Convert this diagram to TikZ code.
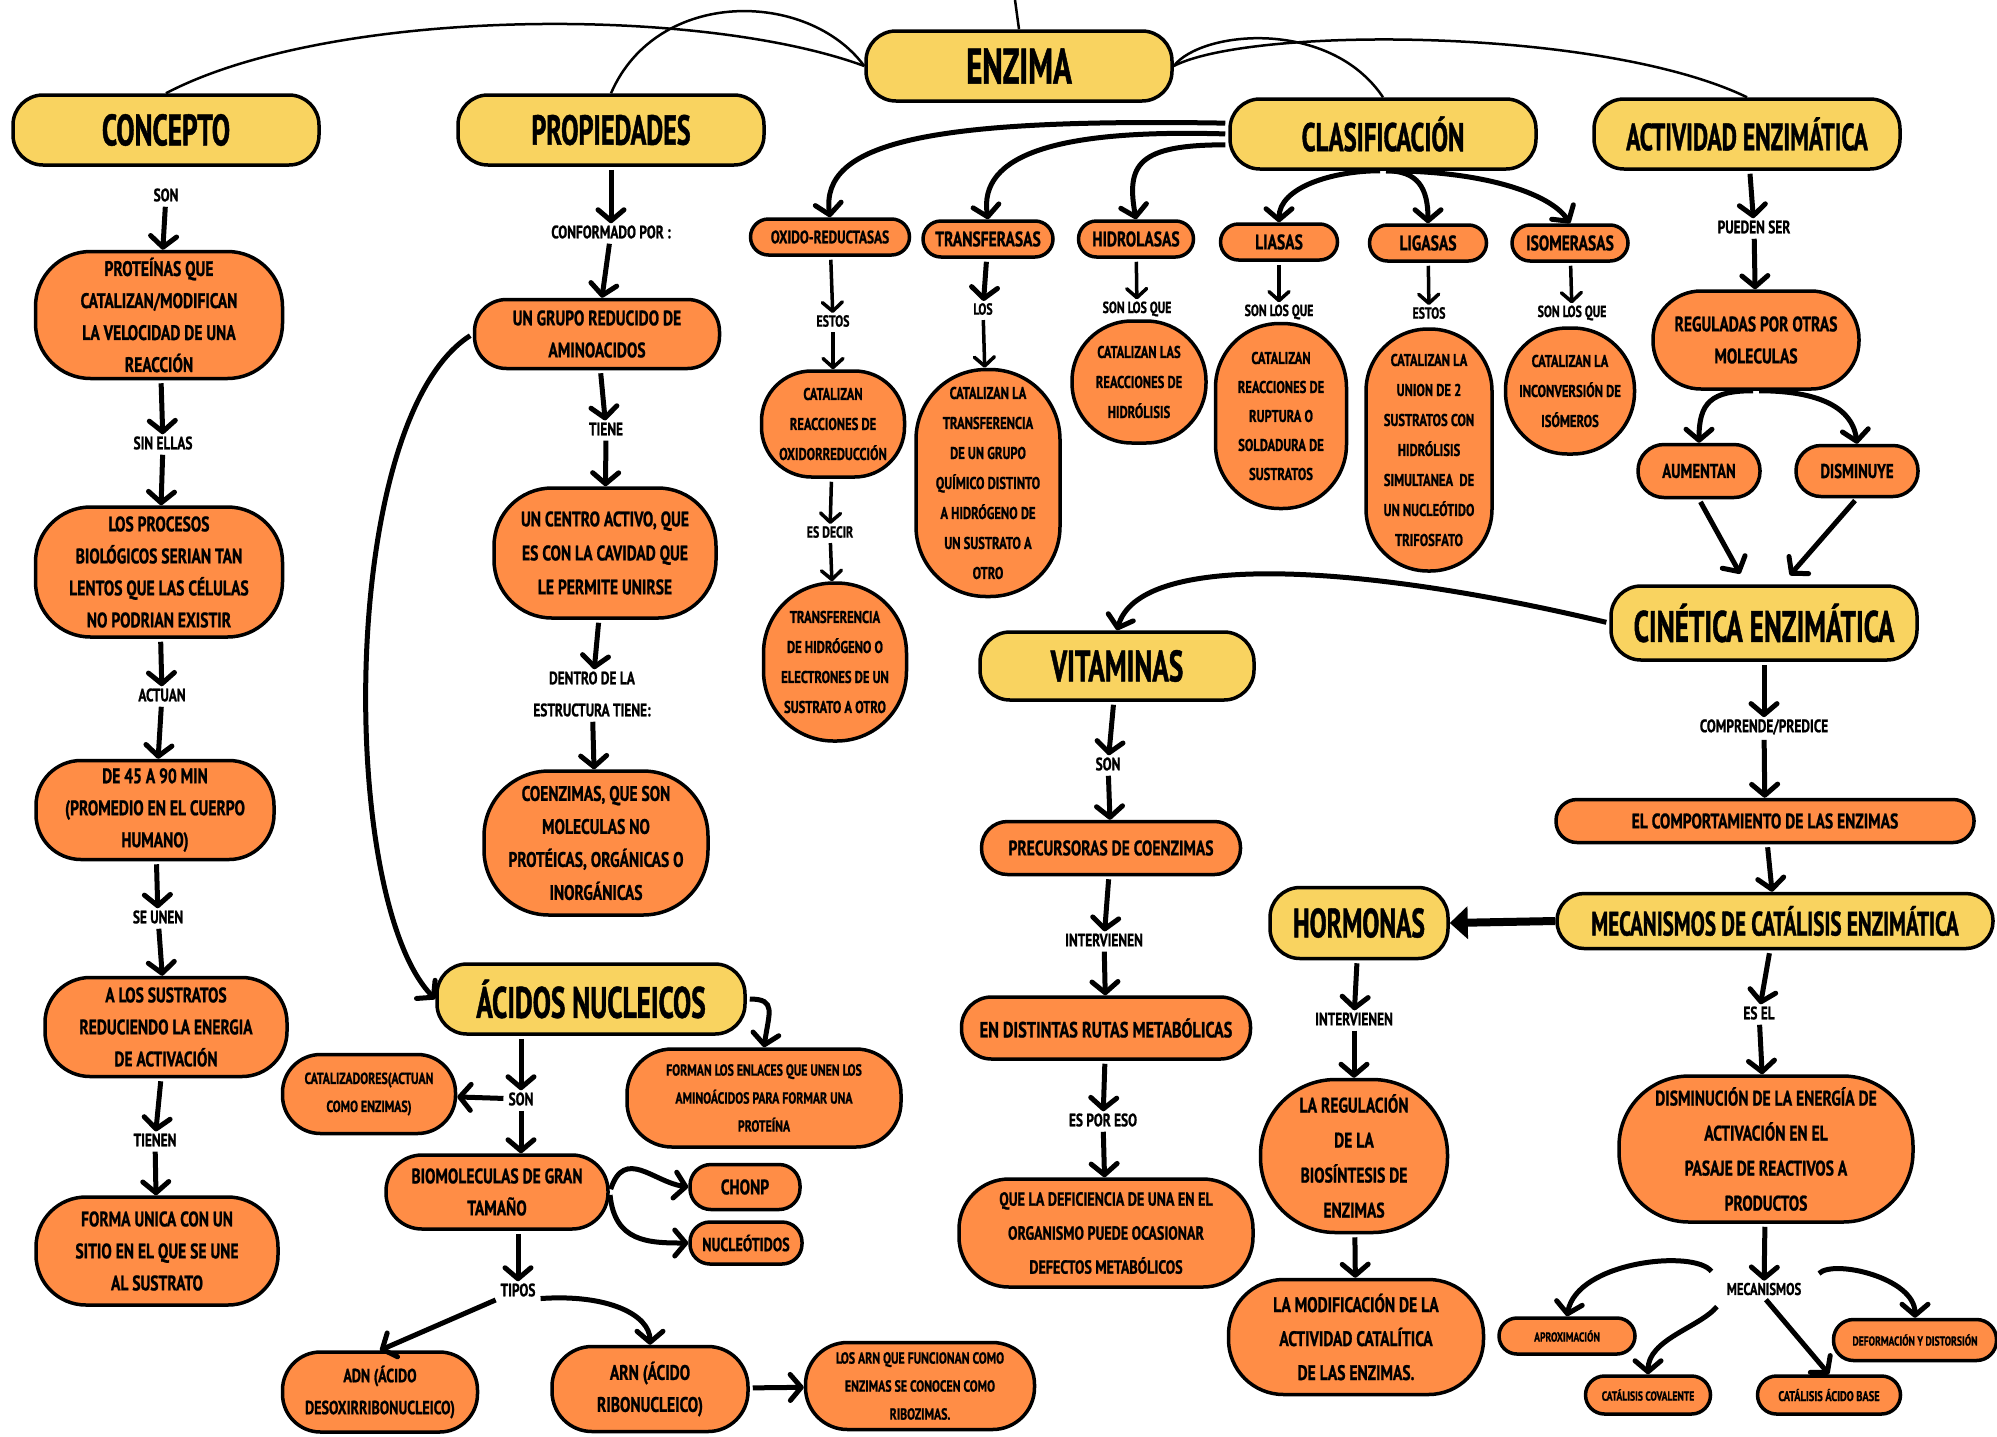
\documentclass[tikz,border=0pt]{standalone}
\usepackage{fontspec}
\setmainfont{PT Sans}[FakeStretch=0.74, FakeBold=1]
\newfontfamily\titulofont{PT Sans}[FakeStretch=0.62, FakeBold=1]
\usetikzlibrary{arrows.meta,positioning}
\definecolor{amarillo}{RGB}{249,211,96}
\definecolor{naranja}{RGB}{255,141,70}
\tikzset{
  titulo/.style={draw, line width=3.5pt, fill=amarillo, rounded corners=30pt, minimum width=306pt, minimum height=70pt, inner sep=0pt, font=\titulofont\bfseries\fontsize{44}{48}\selectfont},
  caja/.style={draw, line width=3.5pt, fill=naranja, rounded corners=#1, inner sep=0pt, align=center, font=\bfseries\fontsize{21}{32}\selectfont},
  caja/.default=20pt,
  tam/.style 2 args={minimum width=#1pt, minimum height=#2pt},
  letra/.style 2 args={font=\bfseries\fontsize{#1}{#2}\selectfont},
  etiqueta/.style={inner sep=2pt, align=center, font=\bfseries\fontsize{18}{30}\selectfont},
  flecha/.style={-{Straight Barb[length=11pt,width=26pt,round]}, line width=5pt, shorten <=3pt},
  flechita/.style={-{Straight Barb[length=9pt,width=20pt,round]}, line width=3.5pt, shorten <=3pt},
  rama/.style={line width=2.5pt}
}
\begin{document}
\begin{tikzpicture}[x=1pt, y=-1pt]
\useasboundingbox (0,0) rectangle (1997,1436);
\fill[white] (0,0) rectangle (1997,1436);

\node[titulo, font=\titulofont\bfseries\fontsize{50}{54}\selectfont] at (1019,66) (enz) {ENZIMA};
\node[titulo] at (166,130) (con) {CONCEPTO};
\node[titulo, font=\titulofont\bfseries\fontsize{42}{46}\selectfont] at (611,130) (pro) {PROPIEDADES};
\node[titulo, font=\titulofont\bfseries\fontsize{40}{44}\selectfont] at (1383,134) (cla) {CLASIFICACIÓN};
\node[titulo, font=\titulofont\bfseries\fontsize{38}{42}\selectfont] at (1747,134) (act) {ACTIVIDAD ENZIMÁTICA};

\node[etiqueta] at (166,195) (cson) {SON};
\node[caja=55pt, tam={247}{127}] at (159,315) (prt) {PROTEÍNAS QUE\\CATALIZAN/MODIFICAN\\LA VELOCIDAD DE UNA\\REACCIÓN};
\node[etiqueta] at (163,443) (sie) {SIN ELLAS};
\node[caja=55pt, tam={247}{130}] at (159,572) (prc) {LOS PROCESOS\\BIOLÓGICOS SERIAN TAN\\LENTOS QUE LAS CÉLULAS\\NO PODRIAN EXISTIR};
\node[etiqueta] at (162,695) (acu) {ACTUAN};
\node[caja=45pt, tam={238}{99}] at (155,810) (mn) {DE 45 A 90 MIN\\(PROMEDIO EN EL CUERPO\\HUMANO)};
\node[etiqueta] at (158,917) (seu) {SE UNEN};
\node[caja=45pt, tam={242}{99}] at (166,1027) (sus) {A LOS SUSTRATOS\\REDUCIENDO LA ENERGIA\\DE ACTIVACIÓN};
\node[etiqueta] at (155,1140) (tin) {TIENEN};
\node[caja=50pt, tam={242}{108}] at (157,1251) (fun) {FORMA UNICA CON UN\\SITIO EN EL QUE SE UNE\\AL SUSTRATO};

\node[etiqueta] at (611,232) (cnf) {CONFORMADO POR :};
\node[caja=32pt, tam={245}{69}] at (597,334) (gru) {UN GRUPO REDUCIDO DE\\AMINOACIDOS};
\node[etiqueta] at (606,429) (tie) {TIENE};
\node[caja=58pt, tam={222}{130}, letra={21}{34}] at (605,553) (cen) {UN CENTRO ACTIVO, QUE\\ES CON LA CAVIDAD QUE\\LE PERMITE UNIRSE};
\node[etiqueta, letra={18}{32}] at (592,694) (den) {DENTRO DE LA\\ESTRUCTURA TIENE:};
\node[caja=65pt, tam={224}{144}, letra={21}{33}] at (596,843) (coe) {COENZIMAS, QUE SON\\MOLECULAS NO\\PROTÉICAS, ORGÁNICAS O\\INORGÁNICAS};

\node[titulo, tam={308}{70}] at (591,999) (aci) {ÁCIDOS NUCLEICOS};
\node[caja=45pt, tam={274}{98}, letra={16}{28}] at (764,1098) (for) {FORMAN LOS ENLACES QUE UNEN LOS\\AMINOÁCIDOS PARA FORMAR UNA\\PROTEÍNA};
\node[etiqueta] at (521,1099) (pson) {SON};
\node[caja=38pt, tam={173}{79}, letra={16}{28}] at (369,1094) (cat) {CATALIZADORES(ACTUAN\\COMO ENZIMAS)};
\node[caja=36pt, tam={222}{74}] at (497,1192) (bio) {BIOMOLECULAS DE GRAN\\TAMAÑO};
\node[caja=21pt, tam={110}{45}] at (745,1187) (cho) {CHONP};
\node[caja=20pt, tam={112}{42}, letra={19}{24}] at (746,1243) (nuc) {NUCLEÓTIDOS};
\node[etiqueta] at (518,1290) (tip) {TIPOS};
\node[caja=38pt, tam={195}{80}, letra={19}{32}] at (380,1392) (adn) {ADN (ÁCIDO\\DESOXIRRIBONUCLEICO)};
\node[caja=40pt, tam={196}{85}] at (650,1389) (arn) {ARN (ÁCIDO\\RIBONUCLEICO)};
\node[caja=42pt, tam={229}{87}, letra={16}{28}] at (920,1386) (lar) {LOS ARN QUE FUNCIONAN COMO\\ENZIMAS SE CONOCEN COMO\\RIBOZIMAS.};

\node[caja=18pt, tam={159}{36}, letra={18}{22}] at (830,237) (oxi) {OXIDO-REDUCTASAS};
\node[caja=18pt, tam={130}{36}] at (988,239) (tra) {TRANSFERASAS};
\node[caja=18pt, tam={115}{36}] at (1136,239) (hid) {HIDROLASAS};
\node[caja=18pt, tam={117}{36}] at (1279,242) (lia) {LIASAS};
\node[caja=18pt, tam={117}{36}] at (1428,243) (lig) {LIGASAS};
\node[caja=18pt, tam={116}{36}] at (1570,243) (iso) {ISOMERASAS};

\node[etiqueta, letra={16}{20}] at (833,321) (est1) {ESTOS};
\node[caja=50pt, tam={143}{106}, letra={17}{30}] at (833,424) (coxi) {CATALIZAN\\REACCIONES DE\\OXIDORREDUCCIÓN};
\node[etiqueta, letra={16}{20}] at (830,532) (dec) {ES DECIR};
\node[caja=70pt, tam={143}{158}, letra={17}{30}] at (835,662) (thi) {TRANSFERENCIA\\DE HIDRÓGENO O\\ELECTRONES DE UN\\SUSTRATO A OTRO};
\node[etiqueta, letra={16}{20}] at (983,309) (los) {LOS};
\node[caja=70pt, tam={144}{227}, letra={17}{30}] at (988,483) (ctr) {CATALIZAN LA\\TRANSFERENCIA\\DE UN GRUPO\\QUÍMICO DISTINTO\\A HIDRÓGENO DE\\UN SUSTRATO A\\OTRO};
\node[etiqueta, letra={16}{20}] at (1137,309) (slq1) {SON LOS QUE};
\node[caja=60pt, tam={134}{122}, letra={17}{30}] at (1139,382) (chi) {CATALIZAN LAS\\REACCIONES DE\\HIDRÓLISIS};
\node[etiqueta, letra={16}{20}] at (1279,312) (slq2) {SON LOS QUE};
\node[caja=64pt, tam={131}{185}, letra={17}{29}] at (1281,416) (cli) {CATALIZAN\\REACCIONES DE\\RUPTURA O\\SOLDADURA DE\\SUSTRATOS};
\node[etiqueta, letra={16}{20}] at (1429,313) (est2) {ESTOS};
\node[caja=62pt, tam={126}{242}, letra={17}{30}] at (1429,450) (clg) {CATALIZAN LA\\UNION DE 2\\SUSTRATOS CON\\HIDRÓLISIS\\SIMULTANEA\ \ DE\\UN NUCLEÓTIDO\\TRIFOSFATO};
\node[etiqueta, letra={16}{20}] at (1572,313) (slq3) {SON LOS QUE};
\node[caja=62pt, tam={129}{126}, letra={17}{30}] at (1570,391) (cis) {CATALIZAN LA\\INCONVERSIÓN DE\\ISÓMEROS};

\node[etiqueta] at (1754,227) (pue) {PUEDEN SER};
\node[caja=48pt, tam={206}{98}] at (1756,340) (reg) {REGULADAS POR OTRAS\\MOLECULAS};
\node[caja=26pt, tam={122}{53}, letra={20}{24}] at (1699,471) (aum) {AUMENTAN};
\node[caja=25pt, tam={122}{51}, letra={20}{24}] at (1857,471) (dis) {DISMINUYE};
\node[titulo, tam={306}{74}] at (1764,623) (cin) {CINÉTICA ENZIMÁTICA};

\node[titulo, tam={274}{68}] at (1117,666) (vit) {VITAMINAS};
\node[etiqueta] at (1108,764) (vson) {SON};
\node[caja=26pt, tam={259}{53}] at (1111,848) (pre) {PRECURSORAS DE COENZIMAS};
\node[etiqueta] at (1104,940) (int1) {INTERVIENEN};
\node[caja=30pt, tam={289}{62}, letra={22}{26}] at (1106,1028) (rut) {EN DISTINTAS RUTAS METABÓLICAS};
\node[etiqueta] at (1103,1120) (esp) {ES POR ESO};
\node[caja=50pt, tam={294}{108}, letra={19}{34}] at (1106,1233) (def) {QUE LA DEFICIENCIA DE UNA EN EL\\ORGANISMO PUEDE OCASIONAR\\DEFECTOS METABÓLICOS};

\node[etiqueta] at (1764,727) (com) {COMPRENDE/PREDICE};
\node[caja=21pt, tam={418}{43}] at (1765,821) (cmp) {EL COMPORTAMIENTO DE LAS ENZIMAS};
\node[titulo, rounded corners=27pt, tam={436}{55}, font=\titulofont\bfseries\fontsize{34}{38}\selectfont] at (1775,921) (mec) {MECANISMOS DE CATÁLISIS ENZIMÁTICA};
\node[titulo, tam={178}{71}, font=\titulofont\bfseries\fontsize{41}{44}\selectfont] at (1359,923) (hor) {HORMONAS};
\node[etiqueta] at (1354,1019) (int2) {INTERVIENEN};
\node[caja=75pt, tam={187}{153}, letra={21}{35}] at (1354,1156) (rgb) {LA REGULACIÓN\\DE LA\\BIOSÍNTESIS DE\\ENZIMAS};
\node[caja=55pt, tam={255}{115}, letra={21}{34}] at (1356,1337) (mod) {LA MODIFICACIÓN DE LA\\ACTIVIDAD CATALÍTICA\\DE LAS ENZIMAS.};
\node[etiqueta] at (1759,1013) (esel) {ES EL};
\node[caja=70pt, tam={294}{146}, letra={21}{35}] at (1766,1149) (dsm) {DISMINUCIÓN DE LA ENERGÍA DE\\ACTIVACIÓN EN EL\\PASAJE DE REACTIVOS A\\PRODUCTOS};
\node[etiqueta, letra={17}{20}] at (1764,1289) (mcs) {MECANISMOS};
\node[caja=18pt, tam={136}{36}, letra={13}{16}] at (1567,1336) (apr) {APROXIMACIÓN};
\node[caja=19pt, tam={125}{38}, letra={13}{16}] at (1648,1395) (cov) {CATÁLISIS COVALENTE};
\node[caja=19pt, tam={143}{38}, letra={14}{16}] at (1829,1395) (acb) {CATÁLISIS ÁCIDO BASE};
\node[caja=20pt, tam={163}{41}, letra={13}{16}] at (1915,1340) (dfm) {DEFORMACIÓN Y DISTORSIÓN};

\coordinate (arriba) at (1015,0);
\draw[rama] (arriba) -- (enz.north);
\draw[rama] (con.north) .. controls +(164,-86) and +(-166,-61) .. (enz.west);
\draw[rama] (pro.north) .. controls +(46,-106) and +(-56,-76) .. (enz.west);
\draw[rama] (enz.east) .. controls +(28,-36) and +(-53,-79) .. (cla.north);
\draw[rama] (enz.east) .. controls +(78,-40) and +(-145,-70) .. (act.north);

\draw[flecha] (cla.176) .. controls +(-300,-5) and +(-10,-75) .. (oxi.north);
\draw[flecha] (cla.west) .. controls +(-170,-5) and +(-10,-65) .. (tra.north);
\draw[flecha] (cla.184) .. controls +(-90,0) and +(-10,-55) .. (hid.north);
\draw[flecha] (cla.south) .. controls +(-50,0) and +(0,-35) .. (lia.north);
\draw[flecha] (cla.south) .. controls +(35,0) and +(0,-35) .. (lig.north);
\draw[flecha] (cla.south) .. controls +(100,0) and +(-20,-30) .. (iso.north);

\foreach \a/\b in {cson/prt, prt/sie, sie/prc, prc/acu, acu/mn, mn/seu, seu/sus, sus/tin, tin/fun,
  pro/cnf, cnf/gru, gru/tie, tie/cen, cen/den, den/coe, tra/los, act/pue, pue/reg,
  vson/pre, pre/int1, int1/rut, rut/esp, esp/def, cin/com, com/cmp, cmp/mec,
  hor/int2, int2/rgb, rgb/mod, mec/esel, esel/dsm, dsm/mcs}
  \draw[flecha] (\a) -- (\b);
\foreach \a/\b in {oxi/est1, est1/coxi, coxi/dec, dec/thi, los/ctr, hid/slq1, lia/slq2, lig/est2, iso/slq3}
  \draw[flechita] (\a) -- (\b);

\draw[flecha] (vit) -- (vson);
\draw[flecha] (reg.south) .. controls +(-45,0) and +(0,-40) .. (aum.north);
\draw[flecha] (reg.south) .. controls +(55,0) and +(-5,-40) .. (dis.north);
\draw[flecha, shorten >=12pt] (aum.south) -- ([xshift=-18pt]cin.north);
\draw[flecha, shorten >=12pt] (dis.south) -- ([xshift=18pt]cin.north);
\draw[flecha] (cin.west) .. controls +(-261,-62) and +(22,-77) .. (vit.north);
\draw[-{Triangle[length=18pt,width=32pt]}, line width=8pt] (mec.west) -- (hor.east);

\draw[flecha] (gru.west) .. controls +(-135,86) and +(-97,-99) .. (aci.west);
\draw[flecha] (aci.east) .. controls +(30,0) and +(5,-35) .. (for.north);
\draw[flecha] (aci.south -| pson) -- (pson);
\draw[flecha] (pson) -- (cat);
\draw[flecha] (pson) -- (pson |- bio.north);
\draw[flecha] (bio.east) .. controls +(15,-45) and +(-35,-5) .. (cho.west);
\draw[flecha] (bio.east) .. controls +(5,50) and +(-40,0) .. (nuc.west);
\draw[flecha] (bio.south -| tip) -- (tip);
\draw[flecha] (tip.south west) -- (adn.north);
\draw[flecha] (tip.south east) .. controls +(70,-5) and +(0,-30) .. (arn.north);
\draw[flecha] (arn) -- (lar);

\draw[flecha, shorten <=22pt] (mcs.west) .. controls +(-30,-40) and +(10,-55) .. (apr.north);
\draw[flecha, shorten <=12pt] (mcs.south west) .. controls +(-25,30) and +(0,-35) .. (cov.north);
\draw[flecha] (mcs.south) -- (acb.north);
\draw[flecha, shorten <=22pt] (mcs.east) .. controls +(30,-30) and +(0,-40) .. (dfm.north);
\end{tikzpicture}
\end{document}
